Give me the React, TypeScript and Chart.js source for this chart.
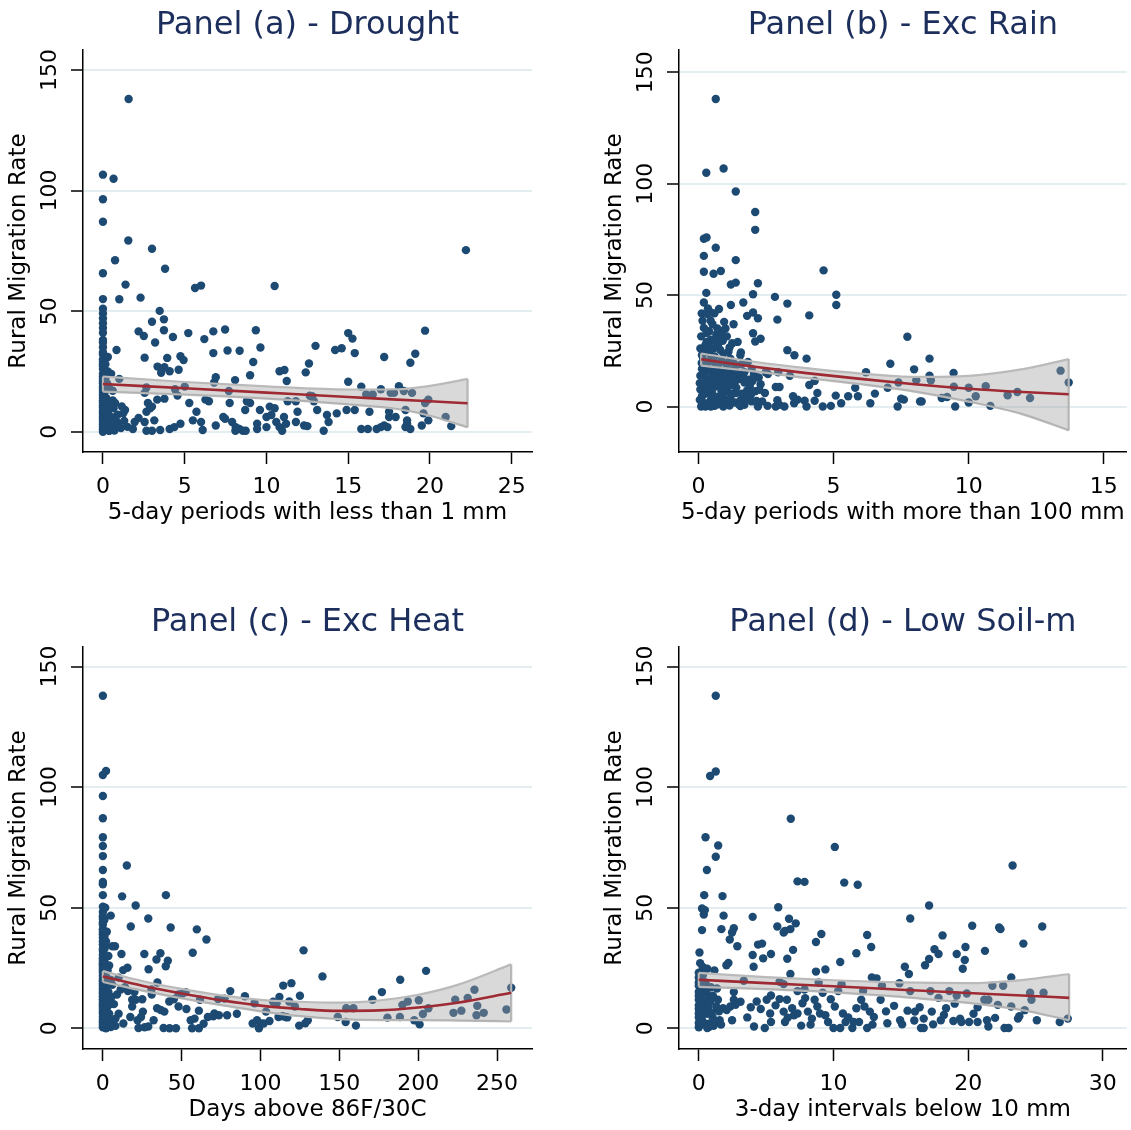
import React, { useEffect, useRef } from "react";
import { Chart, registerables } from "chart.js";

Chart.register(...registerables);

const FONT = "'DejaVu Sans', 'Liberation Sans', sans-serif";
const DOT = "#1d4a72";
const BAND_FILL = "rgba(160,160,160,0.4)";
const BAND_EDGE = "#bababa";
const FIT = "#9e2a33";
const GRID = "#e4edf0";
const TITLE_COLOR = "#1c2e5c";

// ---------- Panel (a) Drought ----------
const droughtPoints: [number, number][] = [
  [1.57,138],[0,106.6],[0.65,104.9],[0,96.4],[0,87.1],[1.55,79.3],[3.0,75.9],[22.2,75.3],[0.74,71.1],[3.8,67.6],
  [0,65.7],[1.38,61],[5.63,59.6],[6.0,60.6],[10.5,60.4],[0,55],[1.0,54.9],[2.3,55.6],[0,51],[0,49],[0,47],[0,45],
  [0,43],[0,41],[3.47,50.1],[3.0,45.6],[3.73,46.6],[2.18,41.6],[2.5,39.7],[3.73,42.1],[3.19,37],[4.28,39.3],
  [5.22,40.9],[6.2,38.4],[6.75,41.6],[7.47,42.4],[9.35,42.1],[6.75,32.6],[7.62,33.7],[8.36,33.6],[9.63,34.9],
  [0.83,33.9],[2.55,30.7],[3.93,30.6],[4.74,31.3],[4.93,29.7],[3.34,27],[3.76,26.7],[3.56,24.4],[4.08,25.1],
  [4.63,25.7],[9.19,28.9],[9.0,23.4],[6.9,22.6],[8.08,21.4],[10.8,25.1],[11.1,25.6],[11.24,21],[12.6,28.3],
  [12.4,24.6],[13.0,35.6],[14.2,33.9],[14.6,34.6],[15.0,40.9],[15.26,38.6],[15.4,32.6],[15.0,20.7],[17.2,31],
  [19.7,41.9],[18.8,28.6],[19.1,32.3],[18.1,18.9],[15.8,18.7],[12.65,14.9],
  [0,38],[0,35],[0,32],[0,30],[0,28],[0,26],[0,24],[0,22],[0,20],[0,18],[0,16],[0,14],[0,12],[0,10],[0,8],[0,6],
  [0,4],[0,2],[0,0],[0.3,31],[0.3,25],[0.25,20],[0.2,14],[0.3,8],[0.2,3],[0.4,0.5],[0.5,24],[0.6,17],
  [0,37],[0,33],[0,29],[0,27],[0,23],[0,21],[0,19],[0,17],[0,15],[0,13],[0,11],[0,9],[0,7],[0,5],[0,3],[0,1],
  [0.15,28],[0.15,22],[0.15,17],[0.15,11],[0.15,6],[0.15,1],[0.35,19],[0.35,12],[0.35,4],[0.45,10],[0.5,2],
  [0.55,6],[0.6,13],[0.7,0.5],[0.8,4.5],[0.9,7],[1.1,1.5],[1.15,10.5],[1.3,4.5],[1.5,2],
  [1.0,21.9],[0.4,24],[0.74,11.9],[0.65,9.7],[1.35,9],[1.24,7.6],[0.92,3.3],[0.37,0.4],[1.83,1.1],[1.94,4],
  [2.18,5.7],[2.66,18.3],[2.55,16.1],[2.75,11.9],[2.88,9.7],[2.66,8.3],[3.0,10.4],[2.55,4],[2.66,0.4],[3.0,0.4],
  [3.14,4.7],[3.32,13.3],[3.76,13.7],[3.5,0.7],[4.08,1.1],[4.37,1.9],[4.41,17.6],[4.56,15],[4.74,3.3],[5.0,18.7],
  [5.28,11.9],[5.5,4.7],[5.72,8.3],[6.0,4],[6.1,0.7],[6.27,13.3],[6.48,12.6],[6.8,20.4],[6.9,2.6],[7.36,6.1],
  [7.47,5.4],[7.7,16.9],[7.75,11.9],[7.9,4],[8.12,1.9],[8.1,0.4],[8.34,1.1],[8.56,0.4],[8.73,0.4],[8.7,9],
  [8.8,12.6],[9.0,11.9],[9.43,1.1],[9.43,3.3],[9.6,9],[10,6.1],[10,1.9],[10.2,10.4],[10.3,6.9],[10.5,9.7],
  [10.6,4],[10.8,1.9],[10.96,0.4],[11.07,6.1],[11.2,3.3],[11.3,12.6],[11.8,12.6],[11.9,8.3],[11.8,4],[12.3,2.6],
  [12.5,2.3],[12.8,14.7],[12.9,12.6],[13.1,9],[13.5,0.4],[13.7,6.9],[13.8,4],[14.3,7.6],[14.9,9],[15.4,9],
  [15.8,1.1],[16.2,1.1],[16.3,8.3],[16.1,15.4],[16.5,15.4],[16.74,1.1],[17,1.9],[17.2,2.6],[17.4,1.9],[17.5,6.1],
  [17.5,8.3],[17.6,16.1],[17.8,16.1],[17.9,6.1],[18.4,16.9],[18.5,9],[18.5,1.9],[18.6,3.3],[18.6,4.7],[18.8,1.1],
  [19.5,2.6],[19.6,7.6],[19.7,11.9],[19.9,13.3],[19.9,4.7],[20.96,6.1],[21.3,2.3],[17,17.6],[18.9,16.1],
];
const droughtBandX = [0, 5, 10, 15, 18, 20, 22.3];
const droughtFit = [19.8, 18.0, 16.2, 14.4, 13.3, 12.6, 11.8];
const droughtUpper = [22.9, 20.6, 18.8, 17.5, 17.6, 19.0, 21.9];
const droughtLower = [16.6, 15.4, 13.7, 11.3, 9.4, 6.6, 1.8];

// ---------- Panel (b) Exc Rain ----------
const rainPoints: [number, number][] = [
  [0.64,138],[0.29,104.9],[0.93,106.8],[1.38,96.5],[2.1,87.3],[2.1,79.3],[0.2,75.3],[0.3,75.9],[0.64,71.3],
  [0.2,67.6],[1.38,65.7],[0.2,60.5],[0.56,59.6],[0.83,60.8],[4.63,61.1],[1.2,54.8],[1.38,55.6],[2.2,55.3],
  [0.29,51],[2.02,50.4],[5.1,50.2],[2.83,49.2],[3.29,46.2],[5.1,45.6],[1.66,46.7],[1.2,45.6],[0.2,46.7],
  [0.12,41.8],[0.33,41.5],[0.46,42.2],[0.59,41.8],[0.76,43.8],[1.3,36.9],[1.8,40.7],[2.02,42.2],[2.2,39.6],
  [2.92,39],[4.1,40.9],[2.02,32.9],[2.3,30.4],[2.1,29.2],[7.73,31.3],[3.29,25.3],[3.55,23],[4,21.5],[1.57,24.3],
  [1.11,24.6],[8.55,21.5],[7.1,19.2],[7.98,16.7],[9.44,15.1],[13.4,16.1],[13.7,10.8],[6.2,15.4],[8.55,13.8],
  [8.06,11.8],[8.6,11.8],[7.0,8.4],[7.4,10.8],[9.45,8.9],[10,8.4],[10.63,9.1],[10.26,4.6],[11.44,5.1],[11.8,6.5],
  [12.27,3.8],[10.8,0.3],[9.5,0],[10,1.8],[9,3.8],[9.2,4.3],[8.26,2.3],[8.2,2.3],[7.6,3.1],[7.5,3.5],[7.37,0],
  [6.36,1.5],[6.53,5.8],[5.9,4.6],[5.54,4.6],[5.28,1.5],[4.9,0.3],[4.6,0],[5.08,4.9],[4.4,6.1],[4.3,2.6],[4,0],
  [3.93,2.6],[3.67,3.1],[3.54,1.5],[3.5,4.6],[3.18,0],[2.99,0.8],[2.86,0],[2.92,2.8],[2.56,0.3],[2.36,2.3],[2.2,0],
  [2.46,6.1],[3.0,8.8],[2.86,8.8],[2.57,14.6],[2.95,15.4],[3.38,13.8],[4.3,11.5],[4.1,9.7],[5.8,8.4],
  [0.1,0],[0.26,0],[0.46,0],[0.6,0.3],[0.92,0],[1.7,0.8],[0.13,4.6],[0.33,6.1],[0.52,7.7],[0.72,9.2],[0.92,10.8],
  [1.1,12.3],[1.3,13.8],[1.5,12.3],[1.7,10.8],[1.9,9.2],[2.1,6.9],[2.3,10],[0.07,13.8],[0.13,16.9],[0.26,18.4],
  [0.39,20],[0.52,16.1],[0.72,18.4],[0.85,20.7],[1.05,17.7],[1.25,16.1],[1.38,18.4],[1.83,20],[1.97,16.9],
  [0.26,27.6],[0.46,30],[0.66,32.3],[0.85,33.8],[1.05,31.5],[1.25,28.4],[0.13,23],[0.07,26.1],[0.2,35.3],
  [0.39,33.8],[0.52,36.9],[0.72,27.6],[0.92,23.8],[0.79,4.6],[1.18,3.8],[1.38,6.1],[1.57,3.1],[1.83,4.6],
  [1.97,2.3],[1.05,6.9],[0.46,3.1],[0.2,9.2],[0.07,7.7],[0.33,12.3],[0.66,13.8],[0.92,15.4],[1.18,21.5],
  [1.55,23],[1.7,15.4],[2.23,13],[2.49,15.4],[0.15,2],[0.35,1.5],[0.55,2.5],[0.75,1],[0.95,2.8],[1.15,0.5],
  [1.35,1.8],[1.55,0.2],[0.25,11],[0.45,9.5],[0.65,11.5],[0.85,7],[1.0,9],[0.18,21],[0.4,24],[0.6,22.5],
  [0.8,25.5],[0.3,29],[0.55,26],[0.1,31.5],[0.45,38.5],[0.7,35],[0.9,29.5],[1.15,26.5],[1.4,8.5],[1.6,5.8],
  [1.8,7.2],[2.0,11.5],[1.6,19],[1.45,29],[0.95,38],
  [0.12,19.5],[0.2,14.5],[0.2,5.5],[0.35,16],[0.4,27],[0.5,13],[0.55,5],[0.62,19.5],[0.7,2],[0.75,15.5],
  [0.85,12.5],[0.9,4.5],[1.0,19.5],[1.05,14.5],[1.1,2.5],[1.2,9.5],[1.25,5.8],[1.3,19.5],[1.35,11],[1.45,15],
  [1.5,1],[1.65,13],[1.75,3.2],[1.85,12],[1.95,5.5],[2.05,14.2],[2.15,2.5],[2.25,7.5],[0.3,33],[0.6,29.5],
  [0.8,31],[1.0,35],[0.15,38.5],[0.35,44],[0.25,24.5],[0.48,21.8],[0.05,10.5],[0.05,3],[0.28,8.2],[0.42,11.2],
];
const rainBandX = [0.1, 2, 4, 6, 8, 10, 12, 13.7];
const rainFit = [21.2, 18.0, 15.0, 12.4, 10.0, 8.0, 6.5, 5.5];
const rainUpper = [23.8, 20.2, 17.2, 14.8, 13.3, 13.8, 16.8, 21.3];
const rainLower = [18.4, 15.9, 12.8, 10.0, 6.7, 2.2, -3.5, -10.7];

// ---------- Panel (c) Exc Heat ----------
const heatPoints: [number, number][] = [
  [0,137.9],[0,105],[2,106.7],[0,96.3],[0,87.1],[0,79.2],[0,75.6],[0,71.4],[0,65.6],[0,60.7],[0,59.7],[0,55.2],
  [0,50.4],[0,48.2],[0,45.4],[0,41.1],[0,37.5],[0,34.7],[0,30.4],[0,26.1],[0,21.8],[0,17.6],[0,13.3],[0,9],[0,4.7],
  [0,0.4],[1.6,34],[5,46.7],[2.7,17.6],[3.8,11.8],[2.7,6.1],[6.1,34],[7.7,34],[0,43],[0,39],[0,32],[0,28],[0,24],
  [0,19.5],[0,15.5],[0,11],[0,7],[0,2.5],[1,28],[1.2,22],[1,14],[1.5,8],[1,2],[2,0],[3,24],[2.5,40],[1.5,50],[4,2],
  [6,3],[8,1],[15.2,67.5],[12.2,54.7],[40,55.2],[20.8,50.9],[28.8,45.5],[17.7,42.2],[43,41.8],[59.6,41],[65.7,36.8],
  [11.8,30.8],[26.3,30.8],[36.5,31.1],[57,31.3],[34,28.5],[41.2,28],[29,24.5],[12.9,24.1],[15.6,25.1],[39.9,25.7],
  [127.3,32.3],[139.3,21.5],[205,23.8],[188.6,20.1],[114.4,17.7],[119.6,18.7],[177,15],[259,16.8],[235.7,16],
  [34.6,19],[30.8,16.1],[11.3,16.1],[15.9,15.4],[18.6,11.8],[20.8,11.8],[18.6,9],[17.4,4.7],[22,3.3],[25.4,6.9],
  [24.2,4.7],[22.6,0.1],[26.5,0.4],[28.8,0.7],[32.2,3.3],[34.4,8.3],[36.7,7.6],[39,6.9],[38.5,0.1],[42.3,0],[46.4,0],
  [42.1,11.1],[48,9],[50.5,14.4],[52.5,15],[55.7,3.3],[56.6,0],[60.9,0],[63.9,1.9],[58.2,4],[60.9,7.3],[61.6,11.8],
  [66.6,4.7],[70.7,6.1],[73.6,5.4],[78.8,5.4],[80.8,15.4],[73.1,12.1],[77.2,12.3],[90.1,13.3],[96.2,10.4],[97.8,3.3],
  [99,0],[103.5,6.9],[105.7,3],[110.2,10.4],[111.4,4.7],[116,4.7],[118.2,11.1],[121.8,9],[124.5,1.1],[128.4,2.1],
  [130,3.3],[149,4.7],[154,2.6],[154.4,8.3],[158.9,8.3],[160.5,1.1],[171,11.8],[180.5,4.4],[188.4,4.7],[190,9.7],
  [193.4,11.1],[197.5,3.3],[200.9,1.6],[200.4,11.6],[203,5.9],[206.5,8.3],[222.4,6.4],[223.5,11.8],[227.4,7.3],
  [231.4,12.6],[237,5.4],[237.5,9.3],[241.6,6.4],[256,7.8],[8,4],[10,6],[13,2],[7,10],[9,14],[5,20],[6,18],[4,26],
  [10,21],[14,17],[20,15],[25,12],[31,14],[45,12],[48,14],[53,8],[70,5],[85,6],[100,2],[108,11],[112,13],[114,5],
  [117,4.5],[102,2],[95,2],[125,13.5],
  [0,46.5],[0,44],[0,40],[0,36],[0,33],[0,29],[0,27],[0,25],[0,23],[0,20.5],[0,18.5],[0,16.5],[0,14.5],[0,12],
  [0,10],[0,8],[0,6],[0,3.5],[0,1.5],[1,45],[1,38],[1,33],[1,20],[1,10],[1,6],[1.5,25],[1.5,17],[1.5,3],
  [2,36],[2,30],[2,12],[2,4],[2.5,21],[2.5,13],[3,9],[3,1],[3.5,30],[3.5,15],[4,6],[4.5,10],[5,0.5],[5.5,13],
];
const heatBandX = [0, 25, 50, 75, 100, 125, 150, 175, 200, 225, 259];
const heatFit = [21.5, 17.6, 14.4, 11.6, 9.4, 8.0, 7.2, 7.4, 8.6, 10.6, 14.7];
const heatUpper = [23.7, 19.6, 16.3, 13.6, 11.8, 11.0, 10.6, 11.5, 13.9, 18.0, 26.5];
const heatLower = [19.2, 15.6, 12.4, 9.6, 7.0, 5.0, 3.8, 3.4, 3.4, 3.2, 2.8];

// ---------- Panel (d) Low Soil-m ----------
const soilPoints: [number, number][] = [
  [1.26,137.9],[0.84,104.6],[1.26,106.5],[6.83,86.9],[0.5,79.2],[1.44,75.8],[1.26,71.1],[0.6,65.6],[10.1,75.2],
  [23.3,67.5],[7.33,60.9],[7.85,60.7],[10.8,60.4],[11.8,59.5],[0.4,55.2],[1.76,54.8],[0.24,49.7],[0.45,49],
  [0.37,47.2],[5.9,50.2],[17.1,50.9],[4,46.2],[1.84,46.7],[15.7,45.5],[6.7,45.4],[7.2,43.5],[5.83,42.2],[20.3,42.5],
  [22.3,41.8],[22.4,41.1],[25.5,42.2],[0.24,40.7],[1.68,41.1],[2.6,41.5],[2.47,39.7],[6.3,39.7],[6.4,40.4],
  [6.8,41.1],[9.1,39.1],[12.5,38.7],[18.1,38.5],[2.3,36.8],[2.86,34],[4.4,34.7],[4.7,35.1],[8.7,35.8],[24.1,35.1],
  [12.8,33.7],[19.8,33.7],[17.5,32.8],[21.25,32.1],[7,32.5],[0.05,31.4],[11.7,31.1],[17.8,30.8],[19.15,30.8],
  [4,30.4],[5.36,30.8],[4.78,29],[6.57,28.8],[17.1,28.7],[19.75,28.3],[10.5,27.5],[16.8,26.1],[2.05,26.1],[2.2,27.1],
  [4.07,25.5],[15.3,25.5],[19.6,24.7],[0.29,25.4],[0.63,24.7],[1.16,24],[0,23],[6.8,22.5],[8.7,23.5],[9.4,24.4],
  [15.6,22.5],[23.2,21.1],[12.85,21.1],[13.2,20.7],[0,17.6],[0.24,14.7],[0,11.8],[0.37,9],[0,6.1],[0.24,3.3],
  [0,0.4],[0.63,0.1],[0.5,10.4],[0.76,13.3],[1.02,4.7],[1.42,11.8],[1.55,3.3],[1.8,8.3],[2.07,7.6],[2.34,9],
  [2.47,3.3],[2.6,15],[2.6,11.8],[2.73,9.7],[3.86,8.7],[4.1,0.7],[4.3,11.1],[4.9,0.1],[5.04,11.8],[5.3,6.1],
  [5.36,13.6],[5.36,2.6],[6,12.1],[6,19.3],[6.3,6.9],[6.4,2.6],[6.54,11.8],[6.93,8.3],[7.07,5.4],[7.33,6.1],
  [7.6,1.1],[7.7,10.4],[7.85,16.1],[8.1,6.9],[8.4,4],[8.6,11.8],[8.8,9],[8.9,19],[9,6.1],[9.2,14.7],[9.4,5.4],
  [9.6,2.6],[10,0.1],[10.1,9],[10.35,15.4],[10.5,0.1],[10.7,6.1],[10.9,2.6],[11.4,0.1],[11.5,2.6],[11.9,2.6],
  [12.06,11.8],[12.2,15.4],[12.3,9],[12.5,0.1],[12.7,6.9],[13,4.7],[13.5,11.8],[14,2.1],[14.5,9.3],[14.95,3.3],
  [15.1,1.6],[15.5,7.3],[15.7,15.4],[16.05,6.9],[16.4,8.7],[16.5,0.1],[16.7,0.1],[16.7,4],[17.3,6.9],[17.4,1.6],
  [17.97,3.3],[18.36,8.3],[18.9,3],[19.15,13.6],[19.4,4],[19.5,2.6],[19.9,14.4],[20.07,2.6],[20.7,8.7],[20.7,2.6],
  [21.2,11.8],[21.4,3.3],[21.5,0.7],[21.8,17.6],[22.2,9.7],[22.6,17.6],[22.7,0.1],[23,0.1],[23.2,9],[23.7,4],
  [23.8,5],[24.6,14.7],[24.7,11.8],[25.1,3.3],[25.6,14.7],[26.8,2.6],[27.4,4],[3.34,19.7],[6.3,18.3],[7.33,15.4],
  [10.6,18.3],[13.6,17.6],[14.9,18.7],[17.2,15.4],[17.8,12.6],[18.6,15.4],[21.5,11.8],[0.1,20],[0.3,22],[0.2,16],
  [0.5,19],[0.6,6],[0.8,2],[0.1,27],[0.4,7],[0.9,17],[1.1,1],[1.3,9],
  [0,21],[0,19],[0,15],[0,13.5],[0,9.5],[0,8],[0,4.5],[0,2.2],[0.15,12.5],[0.15,5],[0.15,1.5],[0.3,18.5],
  [0.35,11.5],[0.45,2],[0.55,15.5],[0.7,8.5],[0.75,0.5],[0.85,11],[0.95,6.5],[1.05,13.5],[1.2,3],[1.35,16.5],
  [1.5,7],[1.65,1.5],[3.1,11],[3.6,4.5],[4.6,8],[5.7,9.5],[6.6,4.4],[7.9,12.5],[8.3,1.5],[9.8,12],[11.1,4.5],
  [11.7,8.3],[12.9,1.5],[13.9,7],[16.0,3.2],[18.2,5.5],[19.0,10.2],[20.4,6],[22.0,4.3],[24.2,7.5],
];
const soilBandX = [0, 5, 10, 15, 20, 24, 27.5];
const soilFit = [20.1, 18.7, 17.4, 16.0, 14.6, 13.6, 12.6];
const soilUpper = [23.0, 21.2, 19.9, 19.0, 18.7, 20.0, 22.5];
const soilLower = [17.2, 16.2, 14.9, 13.0, 10.5, 7.5, 3.3];

const Y_TICKS = [0, 50, 100, 150];
const droughtTicks = [0, 5, 10, 15, 20, 25];
const rainTicks = [0, 5, 10, 15];
const heatTicks = [0, 50, 100, 150, 200, 250];
const soilTicks = [0, 10, 20, 30];

type PanelDef = {
  title: string; xLabel: string; xTicks: number[];
  xMin: number; xMax: number; yMin: number; yMax: number;
  points: [number, number][]; bandX: number[]; fit: number[]; upper: number[]; lower: number[];
  left: number; top: number; width: number; height: number; padRight: number;
};

const PANELS: PanelDef[] = [
  { title: "Panel (a) - Drought", xLabel: "5-day periods with less than 1 mm", xTicks: droughtTicks,
    xMin: -1.22, xMax: 26.24, yMin: -8.42, yMax: 158.3, points: droughtPoints, bandX: droughtBandX,
    fit: droughtFit, upper: droughtUpper, lower: droughtLower, left: 0, top: 0, width: 565, height: 595, padRight: 33 },
  { title: "Panel (b) - Exc Rain", xLabel: "5-day periods with more than 100 mm", xTicks: rainTicks,
    xMin: -0.72, xMax: 15.85, yMin: -20.4, yMax: 160.0, points: rainPoints, bandX: rainBandX,
    fit: rainFit, upper: rainUpper, lower: rainLower, left: 596, top: 0, width: 535, height: 595, padRight: 0 },
  { title: "Panel (c) - Exc Heat", xLabel: "Days above 86F/30C", xTicks: heatTicks,
    xMin: -12.6, xMax: 272.2, yMin: -8.6, yMax: 158.1, points: heatPoints, bandX: heatBandX,
    fit: heatFit, upper: heatUpper, lower: heatLower, left: 0, top: 597, width: 565, height: 533, padRight: 33 },
  { title: "Panel (d) - Low Soil-m", xLabel: "3-day intervals below 10 mm", xTicks: soilTicks,
    xMin: -1.47, xMax: 31.78, yMin: -8.6, yMax: 158.1, points: soilPoints, bandX: soilBandX,
    fit: soilFit, upper: soilUpper, lower: soilLower, left: 596, top: 597, width: 535, height: 533, padRight: 0 },
];

function PanelChart({ p }: { p: PanelDef }) {
  const ref = useRef<HTMLCanvasElement>(null);
  useEffect(() => {
    const canvas = ref.current;
    if (!canvas) return;
    const pts = p.points.map(([x, y]) => ({ x, y }));
    const up = p.bandX.map((x, i) => ({ x, y: p.upper[i] }));
    const lo = p.bandX.map((x, i) => ({ x, y: p.lower[i] }));
    const fit = p.bandX.map((x, i) => ({ x, y: p.fit[i] }));
    const n = p.bandX.length - 1;
    const edgeStart = [{ x: p.bandX[0], y: p.lower[0] }, { x: p.bandX[0], y: p.upper[0] }];
    const edgeEnd = [{ x: p.bandX[n], y: p.lower[n] }, { x: p.bandX[n], y: p.upper[n] }];
    const lineBase = { pointRadius: 0, pointHoverRadius: 0 };
    const chart = new Chart(canvas, {
      type: "scatter",
      data: {
        datasets: [
          { type: "scatter", data: pts, backgroundColor: DOT, borderWidth: 0, pointRadius: 4.2, order: 5 } as any,
          { type: "line", data: up, fill: "+1", backgroundColor: BAND_FILL, borderColor: BAND_EDGE, borderWidth: 2.2,
            cubicInterpolationMode: "monotone", order: 3, ...lineBase } as any,
          { type: "line", data: lo, fill: false, borderColor: BAND_EDGE, borderWidth: 2.2,
            cubicInterpolationMode: "monotone", order: 3, ...lineBase } as any,
          { type: "line", data: edgeStart, fill: false, borderColor: BAND_EDGE, borderWidth: 2.2, tension: 0, order: 3, ...lineBase } as any,
          { type: "line", data: edgeEnd, fill: false, borderColor: BAND_EDGE, borderWidth: 2.2, tension: 0, order: 3, ...lineBase } as any,
          { type: "line", data: fit, fill: false, borderColor: FIT, borderWidth: 2.6,
            cubicInterpolationMode: "monotone", order: 1, ...lineBase } as any,
        ],
      },
      options: {
        responsive: false,
        animation: false,
        devicePixelRatio: 1,
        layout: { padding: { left: 0, right: p.padRight, top: 0, bottom: p.height - 532 } },
        plugins: {
          legend: { display: false },
          tooltip: { enabled: false },
          title: {
            display: true, text: p.title, color: TITLE_COLOR, fullSize: false,
            font: { family: FONT, size: 32, weight: "normal" as any },
            padding: { top: 6.8, bottom: 4.8 },
          },
        },
        scales: {
          x: {
            type: "linear", min: p.xMin, max: p.xMax,
            afterBuildTicks: (s: any) => { s.ticks = p.xTicks.map((v) => ({ value: v })); },
            afterFit: (s: any) => { s.height = 80; },
            ticks: { autoSkip: false, maxRotation: 0, minRotation: 0, padding: 9.8, color: "#000",
              font: { family: FONT, size: 22 } },
            grid: { drawOnChartArea: false, drawTicks: true, tickLength: 12, tickColor: "#000", tickWidth: 1.5 },
            border: { display: true, color: "#000", width: 1.5 },
            title: { display: true, text: p.xLabel, color: "#000", font: { family: FONT, size: 23 },
              padding: { top: 0, bottom: 5.2 } },
          },
          y: {
            type: "linear", min: p.yMin, max: p.yMax,
            afterBuildTicks: (s: any) => { s.ticks = Y_TICKS.map((v) => ({ value: v })); },
            afterFit: (s: any) => { s.width = 83; },
            ticks: { minRotation: 90, maxRotation: 90, crossAlign: "center", padding: 0, color: "#000",
              font: { family: FONT, size: 22 } },
            grid: { color: GRID, lineWidth: 2, drawTicks: true, tickLength: 12, tickColor: "#000", tickWidth: 1.5 },
            border: { display: true, color: "#000", width: 1.5 },
            title: { display: true, text: "Rural Migration Rate", color: "#000", font: { family: FONT, size: 23 },
              padding: { top: 5.2, bottom: 0 } },
          },
        },
      } as any,
    });
    return () => chart.destroy();
  }, [p]);
  return (
    <canvas
      ref={ref}
      width={p.width}
      height={p.height}
      style={{ position: "absolute", left: p.left, top: p.top, width: p.width + "px", height: p.height + "px" }}
    />
  );
}

export default function App() {
  useEffect(() => {
    document.body.style.margin = "0";
    document.body.style.overflow = "hidden";
  }, []);
  return (
    <div style={{ position: "absolute", left: 0, top: 0, width: 1131, height: 1130, overflow: "hidden", background: "#fff" }}>
      {PANELS.map((p) => (
        <PanelChart key={p.title} p={p} />
      ))}
    </div>
  );
}
